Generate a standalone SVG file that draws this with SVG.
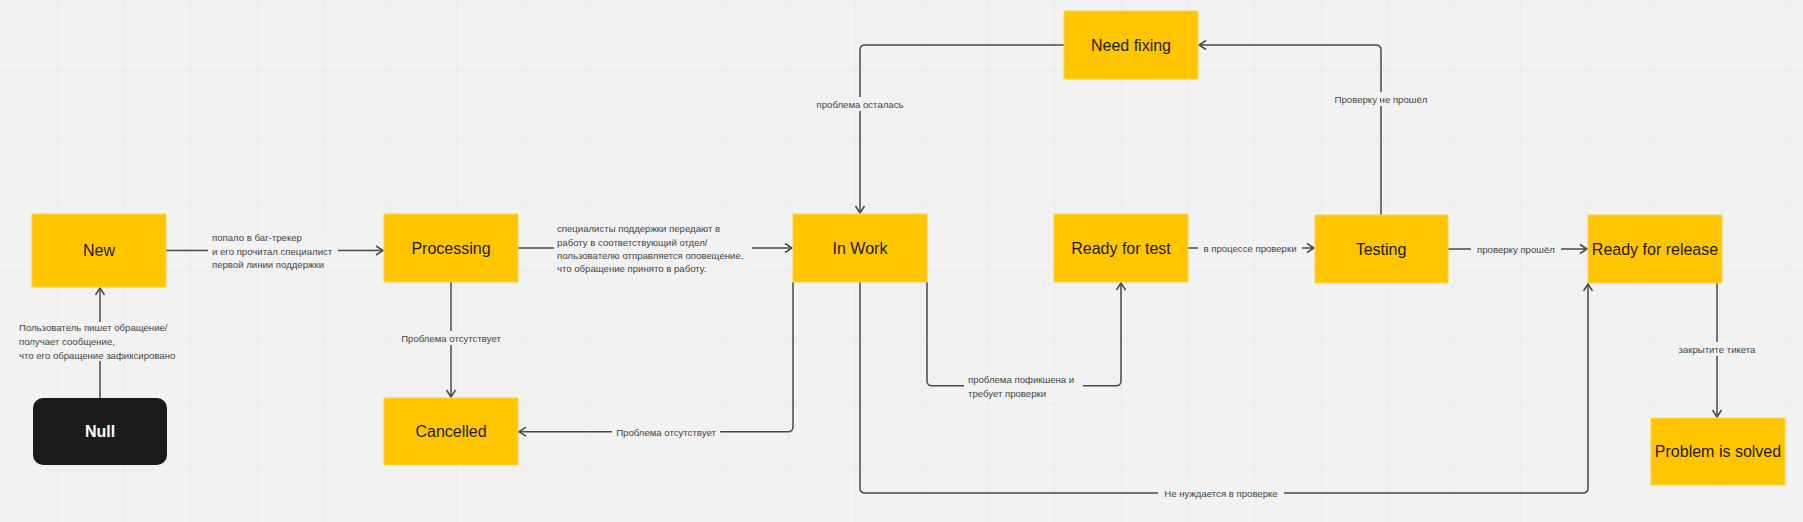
<svg xmlns="http://www.w3.org/2000/svg" width="1803" height="522" viewBox="0 0 1803 522">
<style>
.node rect{fill:#ffc600;stroke:#ffd54a;stroke-width:1}
.node text{font-family:"Liberation Sans",Arial,sans-serif;font-size:16px;fill:#1c1c1c;text-anchor:middle;dominant-baseline:central}
#null rect{fill:#1b1b1b;stroke:none}
#null text{fill:#ffffff;font-weight:bold}
.edge{fill:none;stroke:#4a4a4a;stroke-width:1.5}
.lbl{font-family:"Liberation Sans",Arial,sans-serif;font-size:9.6px;fill:#444444}
.mid{text-anchor:middle;dominant-baseline:central}
.bg{fill:#f2f2f2}
</style>
<defs>
<pattern id="grid" x="57" y="4.5" width="66.5" height="66.5" patternUnits="userSpaceOnUse">
<path d="M0,0 H66.5 M0,0 V66.5" fill="none" stroke="#e5e5e5" stroke-width="1"/>
</pattern>
<marker id="arr" markerWidth="12" markerHeight="12" refX="9" refY="6" orient="auto" markerUnits="userSpaceOnUse">
<path d="M2,1.5 L9,6 L2,10.5" fill="none" stroke="#4a4a4a" stroke-width="1.5"/>
</marker>
</defs>
<rect width="1803" height="522" fill="#f2f2f2"/>
<rect width="1803" height="522" fill="url(#grid)"/>

<g id="connectors">
<path class="edge" d="M100,398 V288" marker-end="url(#arr)"/>
<path class="edge" d="M166,250.5 H383" marker-end="url(#arr)"/>
<path class="edge" d="M518,248 H792" marker-end="url(#arr)"/>
<path class="edge" d="M451,282 V397" marker-end="url(#arr)"/>
<path class="edge" d="M793,282 V426.7 Q793,431.7 788,431.7 H519" marker-end="url(#arr)"/>
<path class="edge" d="M927,282 V380.7 Q927,385.7 932,385.7 H1116 Q1121,385.7 1121,380.7 V283" marker-end="url(#arr)"/>
<path class="edge" d="M860,282 V488 Q860,493 865,493 H1583 Q1588,493 1588,488 V284" marker-end="url(#arr)"/>
<path class="edge" d="M1064,45 H865 Q860,45 860,50 V213" marker-end="url(#arr)"/>
<path class="edge" d="M1381,215 V50 Q1381,45 1376,45 H1199" marker-end="url(#arr)"/>
<path class="edge" d="M1188,248 H1314" marker-end="url(#arr)"/>
<path class="edge" d="M1448,249 H1587" marker-end="url(#arr)"/>
<path class="edge" d="M1717,283 V417" marker-end="url(#arr)"/>

<rect class="bg" x="16" y="322" width="168" height="39"/>
<text class="lbl" x="19" y="331">Пользователь пишет обращение/</text>
<text class="lbl" x="19" y="345">получает сообщение,</text>
<text class="lbl" x="19" y="358.5">что его обращение зафиксировано</text>

<rect class="bg" x="208" y="232" width="130" height="38"/>
<text class="lbl" x="212" y="241">попало в баг-трекер</text>
<text class="lbl" x="212" y="254.5">и его прочитал специалист</text>
<text class="lbl" x="212" y="268">первой линии поддержки</text>

<rect class="bg" x="554" y="222" width="198" height="52"/>
<text class="lbl" x="557" y="232">специалисты поддержки передают в</text>
<text class="lbl" x="557" y="245.5">работу в соответствующий отдел/</text>
<text class="lbl" x="557" y="258.5">пользователю отправляется оповещение,</text>
<text class="lbl" x="557" y="272">что обращение принято в работу.</text>

<rect class="bg" x="397" y="331" width="108" height="14"/>
<text class="lbl mid" x="451" y="338">Проблема отсутствует</text>

<rect class="bg" x="612" y="425" width="108" height="14"/>
<text class="lbl mid" x="666" y="432">Проблема отсутствует</text>

<rect class="bg" x="964" y="373" width="119" height="28"/>
<text class="lbl" x="968" y="382.5">проблема пофикшена и</text>
<text class="lbl" x="968" y="396.5">требует проверки</text>

<rect class="bg" x="812" y="97" width="96" height="14"/>
<text class="lbl mid" x="860" y="104">проблема осталась</text>

<rect class="bg" x="1331" y="92" width="100" height="14"/>
<text class="lbl mid" x="1381" y="99">Проверку не прошёл</text>

<rect class="bg" x="1198" y="241" width="104" height="14"/>
<text class="lbl mid" x="1250" y="248">в процессе проверки</text>

<rect class="bg" x="1471" y="242" width="90" height="14"/>
<text class="lbl mid" x="1516" y="249">проверку прошёл</text>

<rect class="bg" x="1672" y="342" width="90" height="14"/>
<text class="lbl mid" x="1717" y="349">закрытите тикета</text>

<rect class="bg" x="1158" y="486" width="126" height="14"/>
<text class="lbl mid" x="1221" y="493">Не нуждается в проверке</text>
</g>

<g id="null" class="node"><rect x="33" y="398" width="134" height="67" rx="10"/><text x="100" y="431.5">Null</text></g>
<g id="new" class="node"><rect x="32" y="214" width="134" height="73"/><text x="99" y="250.5">New</text></g>
<g id="processing" class="node"><rect x="384" y="214" width="134" height="68"/><text x="451" y="248">Processing</text></g>
<g id="cancelled" class="node"><rect x="384" y="398" width="134" height="67"/><text x="451" y="431.5">Cancelled</text></g>
<g id="inwork" class="node"><rect x="793" y="214" width="134" height="68"/><text x="860" y="248">In Work</text></g>
<g id="needfixing" class="node"><rect x="1064" y="11" width="134" height="68"/><text x="1131" y="45">Need fixing</text></g>
<g id="readyfortest" class="node"><rect x="1054" y="214" width="134" height="68"/><text x="1121" y="248">Ready for test</text></g>
<g id="testing" class="node"><rect x="1315" y="215" width="133" height="68"/><text x="1381" y="249">Testing</text></g>
<g id="readyforrelease" class="node"><rect x="1588" y="215" width="134" height="68"/><text x="1655" y="249">Ready for release</text></g>
<g id="problemsolved" class="node"><rect x="1651" y="418" width="134" height="67"/><text x="1718" y="451.5">Problem is solved</text></g>
</svg>
